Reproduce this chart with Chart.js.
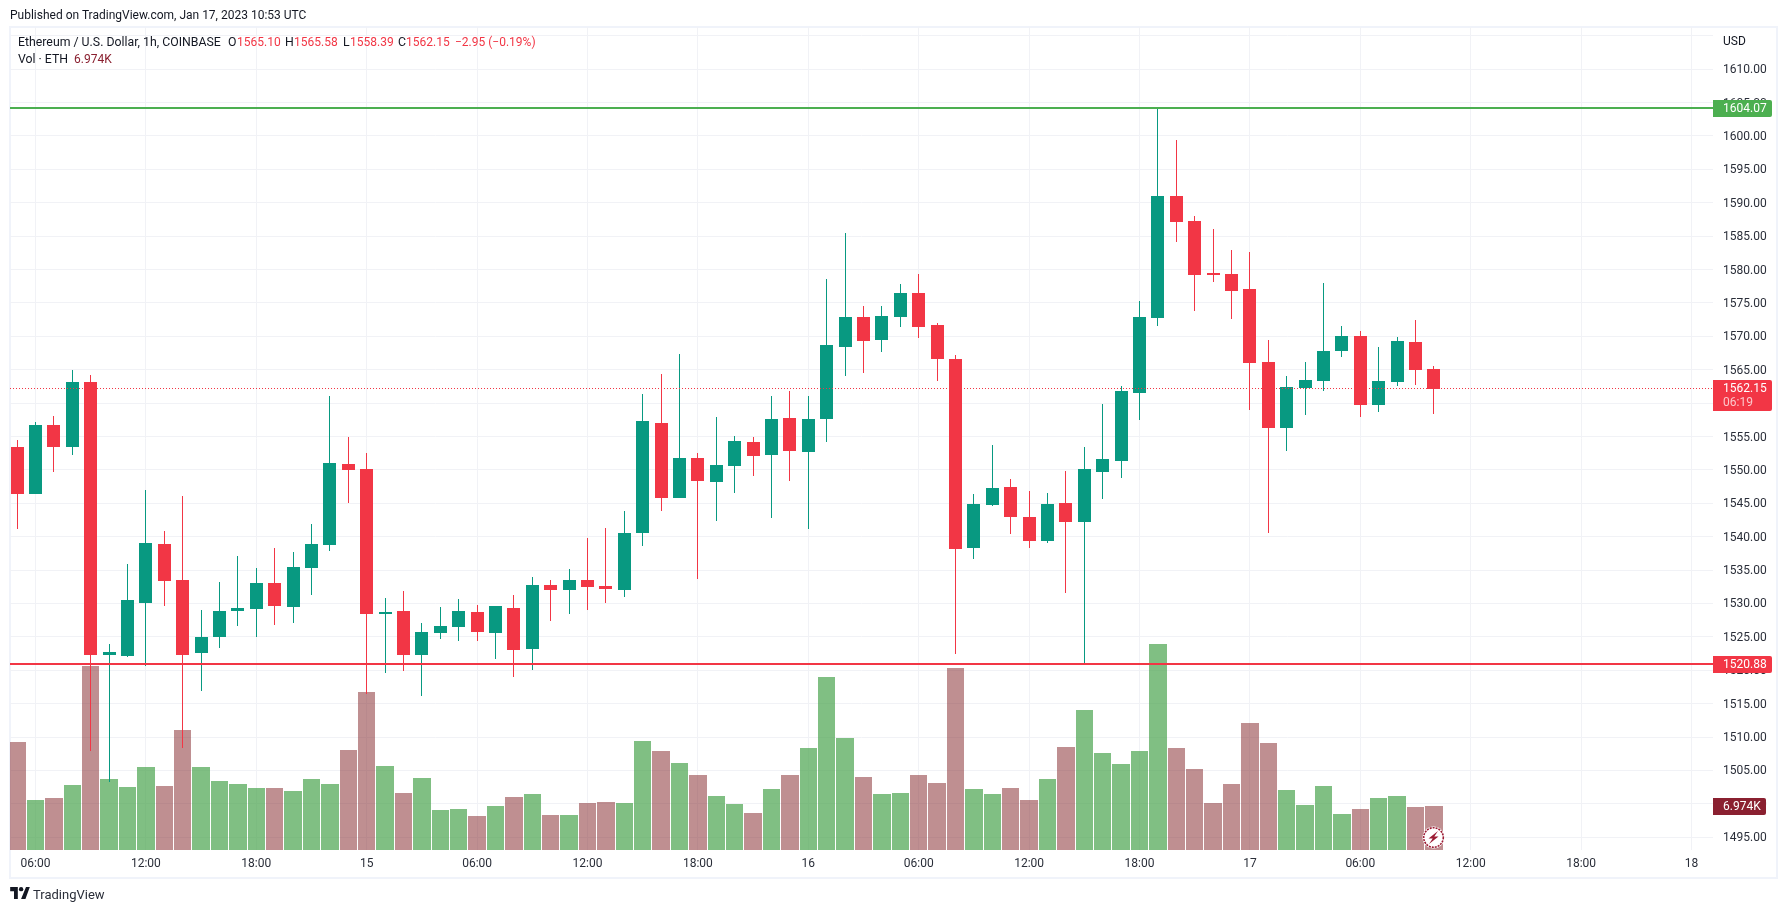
<!DOCTYPE html>
<html><head><meta charset="utf-8">
<script src="https://cdn.jsdelivr.net/npm/chart.js@4"></script>
<style>
html,body{margin:0;padding:0;background:#fff;width:1787px;height:913px;overflow:hidden}
#wrap{position:relative;width:1787px;height:913px;font-family:Roboto,sans-serif;color:#131722}
#frame{position:absolute;left:9px;top:26px;width:1769px;height:853px;box-sizing:border-box;border:2px solid #f0f3fa}
canvas{position:absolute;left:0;top:0}
.t{position:absolute;white-space:nowrap;font-size:12.3px;line-height:16px}
.r{color:#f23645}.v{color:#8a2030}
</style></head><body>
<div id="wrap">
<div id="frame"></div>
<canvas id="c" width="1787" height="913"></canvas>
<div class="t" style="left:10px;top:7px;font-size:12px">Published on TradingView.com, Jan 17, 2023 10:53 UTC</div>
<div class="t" style="left:18px;top:34px">Ethereum / U.S. Dollar, 1h, COINBASE</div>
<div class="t" style="left:228px;top:34px">O</div><div class="t r" style="left:237px;top:34px;font-size:12px">1565.10</div>
<div class="t" style="left:285px;top:34px">H</div><div class="t r" style="left:294px;top:34px;font-size:12px">1565.58</div>
<div class="t" style="left:343px;top:34px">L</div><div class="t r" style="left:350px;top:34px;font-size:12px">1558.39</div>
<div class="t" style="left:398px;top:34px">C</div><div class="t r" style="left:406px;top:34px;font-size:12px">1562.15</div>
<div class="t r" style="left:455px;top:34px;font-size:12px">−2.95 (−0.19%)</div>
<div class="t" style="left:18px;top:51px">Vol · ETH</div><div class="t v" style="left:74px;top:51px;font-size:12px">6.974K</div>
<div class="t" style="left:1723px;top:33px;font-size:12px">USD</div>
<svg style="position:absolute;left:10px;top:887px" width="20" height="12" viewBox="0 0 36 22"><path fill="#131722" d="M14 22H7V8H0V0h14zM28 22h-8L29 0h7z"/><circle cx="20" cy="4" r="4" fill="#131722"/></svg>
<div class="t" style="left:33px;top:887px;font-size:13px;color:#2a2e39">TradingView</div>
</div>
<script>
const opens=[1553.44,1546.40,1556.74,1553.44,1563.18,1522.30,1522.14,1530.08,1538.92,1533.50,1522.60,1525.00,1528.90,1529.20,1533.10,1529.50,1535.30,1538.80,1550.90,1550.15,1528.44,1528.90,1522.30,1525.60,1526.50,1528.70,1525.59,1529.30,1523.20,1532.78,1532.03,1533.53,1532.63,1532.03,1540.57,1557.04,1545.81,1551.80,1548.20,1550.60,1554.19,1552.25,1557.79,1552.70,1557.64,1568.42,1572.91,1569.47,1572.91,1576.51,1571.72,1566.62,1538.32,1544.75,1547.45,1542.96,1539.36,1545.05,1542.21,1549.70,1551.34,1561.52,1572.75,1591.03,1587.28,1579.49,1579.34,1577.10,1566.17,1556.29,1562.27,1563.32,1567.81,1570.06,1559.73,1563.17,1569.16,1565.10];
const highs=[1554.50,1557.20,1558.10,1564.97,1564.20,1523.94,1535.90,1547.00,1540.86,1546.10,1529.00,1533.20,1537.10,1535.30,1538.30,1537.70,1541.90,1561.10,1554.90,1552.50,1530.83,1531.90,1527.10,1529.50,1530.70,1529.80,1529.64,1531.28,1533.98,1533.53,1535.18,1539.82,1541.30,1543.86,1561.38,1564.38,1567.37,1552.54,1557.94,1555.09,1554.94,1561.08,1561.83,1561.08,1578.60,1585.49,1574.56,1574.56,1577.86,1579.35,1572.00,1567.22,1546.40,1553.74,1548.65,1546.85,1546.55,1549.85,1553.44,1559.88,1562.57,1575.30,1604.05,1599.41,1588.03,1586.08,1582.94,1582.64,1569.46,1564.07,1566.16,1578.00,1571.56,1570.81,1568.41,1569.91,1572.46,1565.58];
const lows=[1541.20,1546.40,1549.70,1552.25,1507.90,1503.20,1522.00,1520.70,1529.60,1508.40,1516.90,1523.30,1526.60,1525.00,1526.80,1527.10,1531.30,1537.90,1545.05,1516.50,1519.60,1519.90,1516.10,1524.70,1524.40,1524.40,1521.70,1519.00,1520.05,1527.39,1528.44,1529.04,1530.08,1530.98,1538.62,1543.86,1545.81,1533.68,1542.36,1546.56,1549.10,1542.81,1548.35,1541.17,1554.19,1564.10,1564.53,1567.67,1571.42,1569.77,1563.33,1522.44,1536.67,1544.60,1540.41,1538.32,1539.06,1531.58,1521.09,1545.65,1548.80,1557.48,1571.56,1584.14,1573.80,1578.15,1572.60,1558.98,1540.56,1552.84,1558.23,1561.82,1566.91,1557.93,1558.68,1562.57,1562.72,1558.39];
const closes=[1546.40,1556.74,1553.44,1563.18,1522.29,1522.74,1530.53,1539.07,1533.37,1522.29,1525.00,1528.90,1529.34,1533.10,1529.60,1535.50,1538.90,1551.05,1550.00,1528.44,1528.73,1522.30,1525.70,1526.60,1528.90,1525.70,1529.64,1523.05,1532.78,1532.03,1533.53,1532.48,1532.18,1540.57,1557.34,1545.81,1551.80,1548.35,1550.75,1554.34,1552.10,1557.64,1552.84,1557.64,1568.72,1572.91,1569.32,1573.06,1576.51,1571.42,1566.62,1538.17,1544.90,1547.30,1542.96,1539.36,1544.90,1542.21,1550.15,1551.64,1561.82,1572.90,1591.03,1587.13,1579.19,1579.19,1576.80,1566.02,1556.29,1562.42,1563.47,1567.81,1570.06,1559.73,1563.32,1569.31,1564.97,1562.15];
const volumes=[17.12,7.93,8.24,10.30,29.16,11.25,9.99,13.16,10.14,19.02,13.16,10.94,10.46,9.83,9.83,9.35,11.25,10.46,15.85,25.04,13.31,9.03,11.41,6.34,6.50,5.39,6.97,8.40,8.88,5.55,5.55,7.45,7.61,7.45,17.28,15.69,13.79,11.89,8.56,7.29,5.86,9.67,11.89,16.17,27.42,17.75,11.57,8.88,9.03,11.89,10.62,28.85,9.67,8.88,9.83,7.93,11.25,16.33,22.19,15.37,13.63,15.69,32.65,16.17,12.84,7.45,10.46,20.13,16.96,9.51,7.13,10.14,5.71,6.50,8.24,8.56,6.82,6.974];
const xTickHours=[1,7,13,19,25,31,37,43,49,55,61,67,73,79,85,91];
const xTickLabels=["06:00","12:00","18:00","15","06:00","12:00","18:00","16","06:00","12:00","18:00","17","06:00","12:00","18:00","18"];
const resistance=1604.07, support=1520.88, lastPrice=1562.15;
const highestPriceLabel=1610;
const countdown="06:19", lastVolumeLabel="6.974K";

const GREEN='#089981',RED='#f23645',FONT='Roboto, sans-serif',TXT='#2a2e39',GRID='#f1f2f6';
const xMin=-0.386,xMax=92.167;
const up=closes.map((c,i)=>c>=opens[i]);
const candleCol=up.map(u=>u?GREEN:RED);
const volCol=up.map(u=>u?'rgba(66,160,70,0.67)':'rgba(128,32,36,0.5)');
const hLine=(v,col,w,dash)=>({type:'line',data:[{x:xMin,y:v},{x:xMax,y:v}],borderColor:col,borderWidth:w,borderDash:dash||[],pointRadius:0,yAxisID:'y',order:1,snapLine:true,tension:0});
const barBase={type:'bar',barPercentage:1,categoryPercentage:1,grouped:false,inflateAmount:0,borderWidth:0};

const snap={id:'snap',afterDatasetsUpdate(chart){
  chart.data.datasets.forEach((ds,di)=>{
    const meta=chart.getDatasetMeta(di);
    if(ds.snapLine){
      const w=ds.borderWidth;
      meta.data.forEach(p=>{p.y=Math.floor(p.y)+(w%2?0.5:0);});
      return;
    }
    meta.data.forEach(el=>{
      const top=Math.round(Math.min(el.y,el.base)),bot=Math.round(Math.max(el.y,el.base));
      el.y=top; el.base=Math.max(bot,top+1);
      const c=Math.floor(el.x);
      if(ds.kind==='vol'){
        const step=18.4,l=Math.floor(el.x-step/2)+1,r=Math.floor(el.x+step/2);
        el.x=(l+r)/2; el.width=r-l;
      }else if(ds.kind==='wick'){ el.x=c+0.5; el.width=1; }
      else { el.x=c+0.5; el.width=13; }
    });
  });
},beforeDraw(chart){
  const items=chart.scales.y.getLabelItems();
  if(!items._nudged){items._nudged=true;items.forEach(it=>{it.options.translation[1]+=1;});}
}};
function badge(ctx,x,y,w,h,col){ctx.fillStyle=col;ctx.beginPath();ctx.roundRect(x,y,w,h,[0,2,2,0]);ctx.fill();}
const overlay={id:'overlay',afterDraw(chart){
  const ctx=chart.ctx,sy=chart.scales.y,sv=chart.scales.vol,sx=chart.scales.x,x0=sx.right;
  ctx.save();
  ctx.font='12px '+FONT;ctx.textBaseline='middle';ctx.textAlign='left';
  const one=(v,col)=>{const py=Math.floor(sy.getPixelForValue(v))+.5;badge(ctx,x0,py-8.5,59,17,col);ctx.fillStyle='#fff';ctx.fillText(v.toFixed(2),x0+10,py+.5);};
  one(resistance,'#4caf50');one(support,RED);
  const py=Math.floor(sy.getPixelForValue(lastPrice));
  badge(ctx,x0,py-8,59,31,RED);
  ctx.fillStyle='#fff';ctx.fillText(lastPrice.toFixed(2),x0+10,py+1);
  ctx.fillStyle='rgba(255,255,255,.72)';ctx.fillText(countdown,x0+10,py+15);
  const vy=Math.round(sv.getPixelForValue(volumes[volumes.length-1]));
  badge(ctx,x0,vy-8,53,17,'#8a2030');
  ctx.fillStyle='#fff';ctx.fillText(lastVolumeLabel,x0+10,vy+1);
  const cx=Math.floor(sx.getPixelForValue(closes.length-1))+.5,cy=chart.chartArea.bottom-12.5;
  ctx.beginPath();ctx.arc(cx,cy,11,0,Math.PI*2);ctx.fillStyle='#fff';ctx.fill();
  ctx.beginPath();ctx.arc(cx,cy,9.8,0,Math.PI*2);ctx.strokeStyle='#9c1c34';ctx.lineWidth=1.6;ctx.setLineDash([2,1]);ctx.stroke();ctx.setLineDash([]);
  ctx.beginPath();ctx.moveTo(cx+4.5,cy-6.5);ctx.lineTo(cx-5,cy+1);ctx.lineTo(cx-.8,cy+1);ctx.lineTo(cx-4.5,cy+6.5);ctx.lineTo(cx+5,cy-1);ctx.lineTo(cx+.8,cy-1);ctx.closePath();
  ctx.fillStyle='#9c1c34';ctx.fill();
  ctx.restore();
}};

new Chart(document.getElementById('c'),{
 type:'bar',
 plugins:[snap,overlay],
 data:{datasets:[
  hLine(resistance,'#4caf50',2),
  hLine(support,RED,2),
  hLine(lastPrice,RED,1,[1,2]),
  {...barBase,kind:'body',label:'Body',data:opens.map((o,i)=>({x:i,y:[o,closes[i]]})),backgroundColor:candleCol,maxBarThickness:13,yAxisID:'y',order:2},
  {...barBase,kind:'wick',label:'Wick',data:lows.map((l,i)=>({x:i,y:[l,highs[i]]})),backgroundColor:candleCol,maxBarThickness:1,yAxisID:'y',order:3},
  {...barBase,kind:'vol',label:'Volume',data:volumes.map((v,i)=>({x:i,y:v})),backgroundColor:volCol,maxBarThickness:17,yAxisID:'vol',order:4}
 ]},
 options:{
  responsive:false,animation:false,devicePixelRatio:1,
  layout:{autoPadding:false,padding:{left:10,top:27,right:10,bottom:0}},
  plugins:{legend:{display:false},tooltip:{enabled:false},title:{display:false}},
  scales:{
   x:{type:'linear',position:'bottom',offset:false,min:xMin,max:xMax,
     afterBuildTicks(s){s.ticks=xTickHours.map(v=>({value:v}));},
     afterFit(s){s.height=63;},
     grid:{offset:false,color:GRID,drawTicks:false},border:{display:false},
     ticks:{autoSkip:false,maxRotation:0,padding:7,color:TXT,font:{family:FONT,size:12},
       callback(v){const i=xTickHours.indexOf(v);return i<0?'':xTickLabels[i];}}},
   y:{type:'linear',position:'right',min:1493.083,max:1616.319,
     afterFit(s){s.width=64;},
     grid:{color:GRID,drawTicks:false},border:{display:false},
     ticks:{stepSize:5,includeBounds:false,padding:10,color:TXT,font:{family:FONT,size:12},
       callback(v){return v>highestPriceLabel?'':Number(v).toFixed(2);}}},
   vol:{type:'linear',display:false,position:'left',min:0,max:130.4,grid:{display:false}}
  }
 }
});
</script>
</body></html>
